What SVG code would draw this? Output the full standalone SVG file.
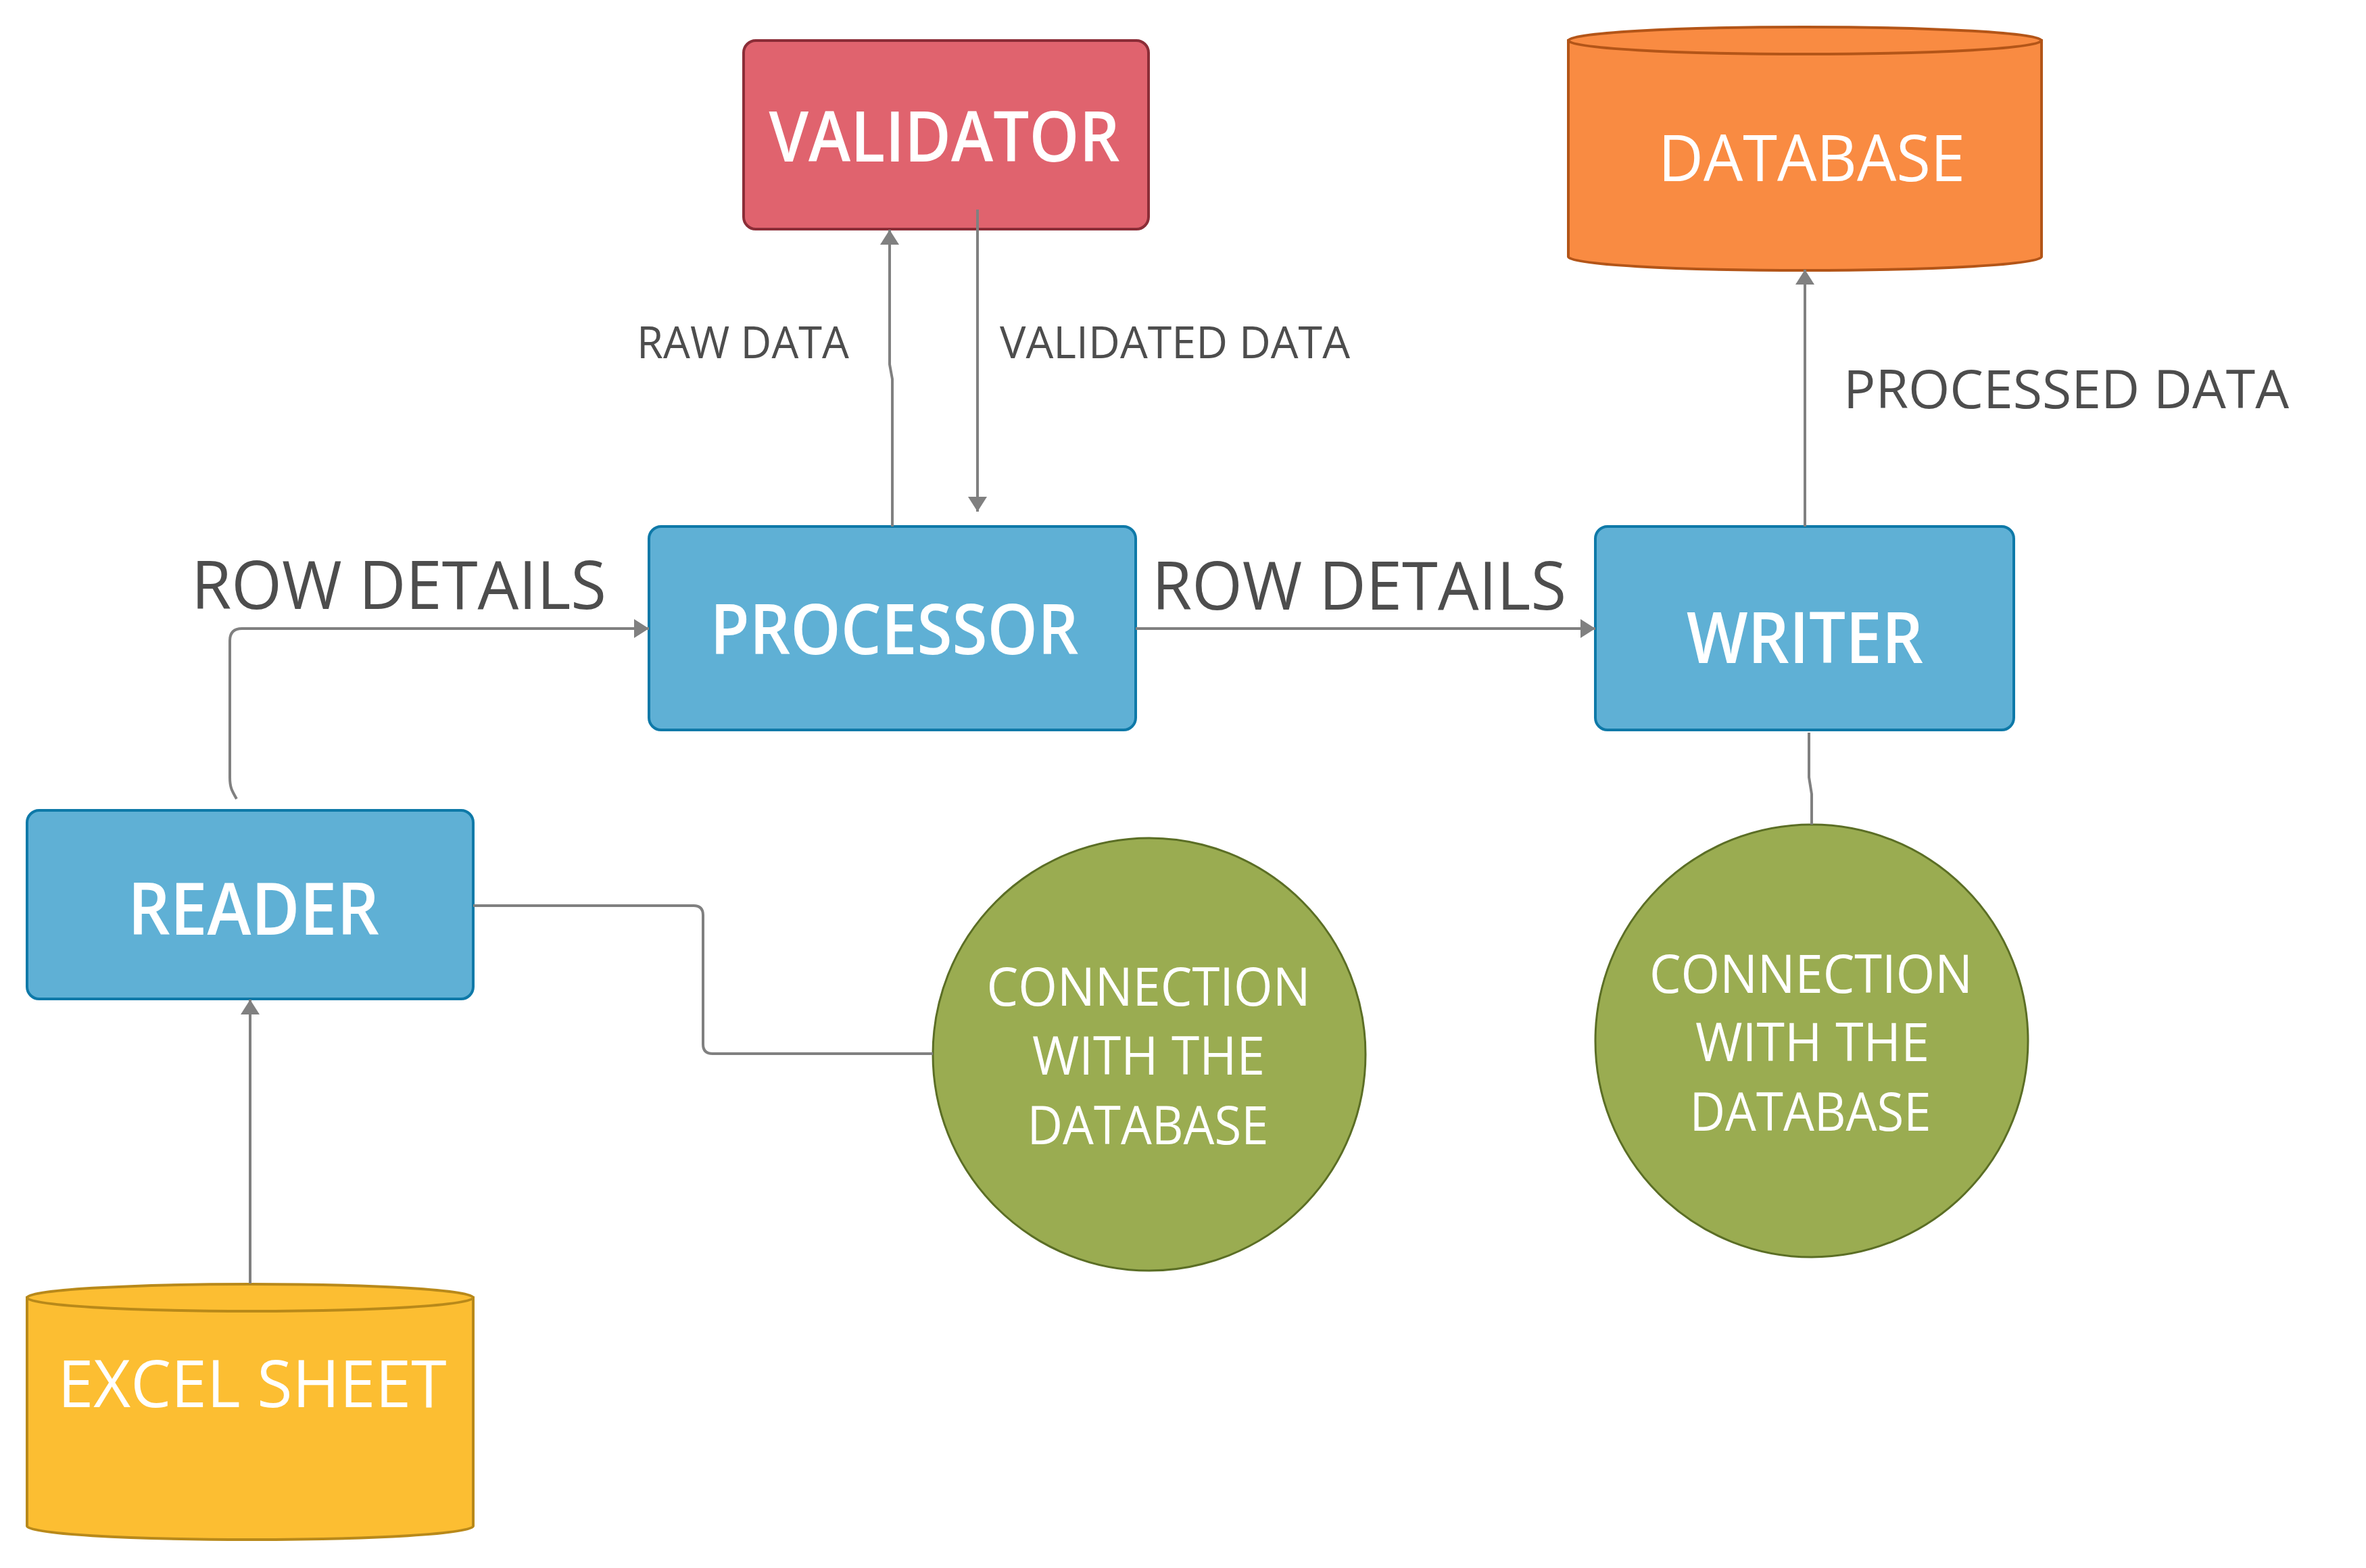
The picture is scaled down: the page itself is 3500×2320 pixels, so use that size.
<svg xmlns="http://www.w3.org/2000/svg" width="3500" height="2320" viewBox="0 0 3500 2320">
  <defs>
    <marker id="arrow" viewBox="0 0 22 28" refX="22" refY="14" markerWidth="22" markerHeight="28" markerUnits="userSpaceOnUse" orient="auto">
      <path d="M0,0 L22,14 L0,28 Z" fill="#808080"/>
    </marker>
    <style>
      .conn { fill: none; stroke: #808080; stroke-width: 4; }
      .box { fill: #5FB0D5; stroke: #0E79A8; stroke-width: 4; }
      .val { fill: #E0636E; stroke: #8B2D37; stroke-width: 4; }
      .circ { fill: #9AAC51; stroke: #5B6E25; stroke-width: 3; }
      .db { fill: #F98B42; stroke: #B35518; stroke-width: 4; }
      .xl { fill: #FCBE32; stroke: #B8891A; stroke-width: 4; }
      .title { font-family: "Open Sans", "Noto Sans", sans-serif; font-weight: 600; fill: #FFFFFF; text-anchor: middle; }
      .name { font-family: "Open Sans", "Noto Sans", sans-serif; font-weight: 400; fill: #FFFFFF; text-anchor: middle; }
      .lbl { font-family: "Open Sans", "Noto Sans", sans-serif; font-weight: 400; fill: #4D4D4D; }
    </style>
  </defs>
  <rect width="3500" height="2320" fill="#FFFFFF"/>

  <!-- validator -->
  <g id="validator">
    <rect class="val" x="1100" y="60" width="599" height="279" rx="18"/>
    <text class="title" x="1397" y="239" font-size="104" textLength="519" lengthAdjust="spacingAndGlyphs">VALIDATOR</text>
  </g>

  <!-- processor -->
  <g id="processor">
    <rect class="box" x="960" y="779" width="720" height="301" rx="18"/>
    <text class="title" x="1323" y="968" font-size="104" textLength="545" lengthAdjust="spacingAndGlyphs">PROCESSOR</text>
  </g>

  <!-- writer -->
  <g id="writer">
    <rect class="box" x="2360" y="779" width="619" height="301" rx="18"/>
    <text class="title" x="2670" y="981" font-size="105" textLength="350" lengthAdjust="spacingAndGlyphs">WRITER</text>
  </g>

  <!-- reader -->
  <g id="reader">
    <rect class="box" x="40" y="1199" width="660" height="279" rx="18"/>
    <text class="title" x="375" y="1383" font-size="107" textLength="372" lengthAdjust="spacingAndGlyphs">READER</text>
  </g>

  <!-- database store -->
  <g id="database">
    <path class="db" d="M2320,60 V380 A350,20 0 0 0 3020,380 V60 Z"/>
    <ellipse class="db" cx="2670" cy="60" rx="350" ry="20"/>
    <text class="name" x="2680" y="268" font-size="96" textLength="454" lengthAdjust="spacingAndGlyphs">DATABASE</text>
  </g>

  <!-- excel source -->
  <g id="excel-sheet">
    <path class="xl" d="M40,1920 V2258 A330,20 0 0 0 700,2258 V1920 Z"/>
    <ellipse class="xl" cx="370" cy="1920" rx="330" ry="20"/>
    <text class="name" x="373" y="2082" font-size="97" textLength="575" lengthAdjust="spacingAndGlyphs">EXCEL SHEET</text>
  </g>

  <!-- reader-side connection -->
  <g id="connection-reader">
    <circle class="circ" cx="1700" cy="1560" r="320"/>
    <text class="name" x="1699" y="1488" font-size="79" textLength="479" lengthAdjust="spacingAndGlyphs">CONNECTION</text>
    <text class="name" x="1699" y="1590" font-size="79" textLength="344" lengthAdjust="spacingAndGlyphs">WITH THE</text>
    <text class="name" x="1698" y="1693" font-size="79" textLength="357" lengthAdjust="spacingAndGlyphs">DATABASE</text>
  </g>

  <!-- writer-side connection -->
  <g id="connection-writer">
    <circle class="circ" cx="2680" cy="1540" r="320"/>
    <text class="name" x="2679" y="1469" font-size="79" textLength="478" lengthAdjust="spacingAndGlyphs">CONNECTION</text>
    <text class="name" x="2681" y="1570" font-size="79" textLength="346" lengthAdjust="spacingAndGlyphs">WITH THE</text>
    <text class="name" x="2678" y="1673" font-size="79" textLength="357" lengthAdjust="spacingAndGlyphs">DATABASE</text>
  </g>

  <!-- connectors, drawn over the nodes -->
  <g id="connectors">
    <path class="conn" d="M350,1182 C343,1170 340,1165 340,1150 V948 Q340,930 358,930 H960" marker-end="url(#arrow)"/>
    <path class="conn" d="M1680,930 H2360" marker-end="url(#arrow)"/>
    <path class="conn" d="M1320,779 V561 L1316,539 V340" marker-end="url(#arrow)"/>
    <path class="conn" d="M1446,310 V757" marker-end="url(#arrow)"/>
    <path class="conn" d="M2670,779 V399" marker-end="url(#arrow)"/>
    <path class="conn" d="M370,1899 V1479" marker-end="url(#arrow)"/>
    <path class="conn" d="M2676,1084 V1150 L2680,1175 V1220"/>
    <path class="conn" d="M700,1340 H1026 Q1040,1340 1040,1354 V1545 Q1040,1559 1054,1559 H1380"/>

    <text class="lbl" x="283" y="901" font-size="98" textLength="614" lengthAdjust="spacingAndGlyphs">ROW DETAILS</text>
    <text class="lbl" x="1704" y="902" font-size="98" textLength="613" lengthAdjust="spacingAndGlyphs">ROW DETAILS</text>
    <text class="lbl" x="942" y="530" font-size="66" textLength="314" lengthAdjust="spacingAndGlyphs">RAW DATA</text>
    <text class="lbl" x="1479" y="530" font-size="66" textLength="518" lengthAdjust="spacingAndGlyphs">VALIDATED DATA</text>
    <text class="lbl" x="2727" y="604" font-size="78" textLength="659" lengthAdjust="spacingAndGlyphs">PROCESSED DATA</text>
  </g>
</svg>
